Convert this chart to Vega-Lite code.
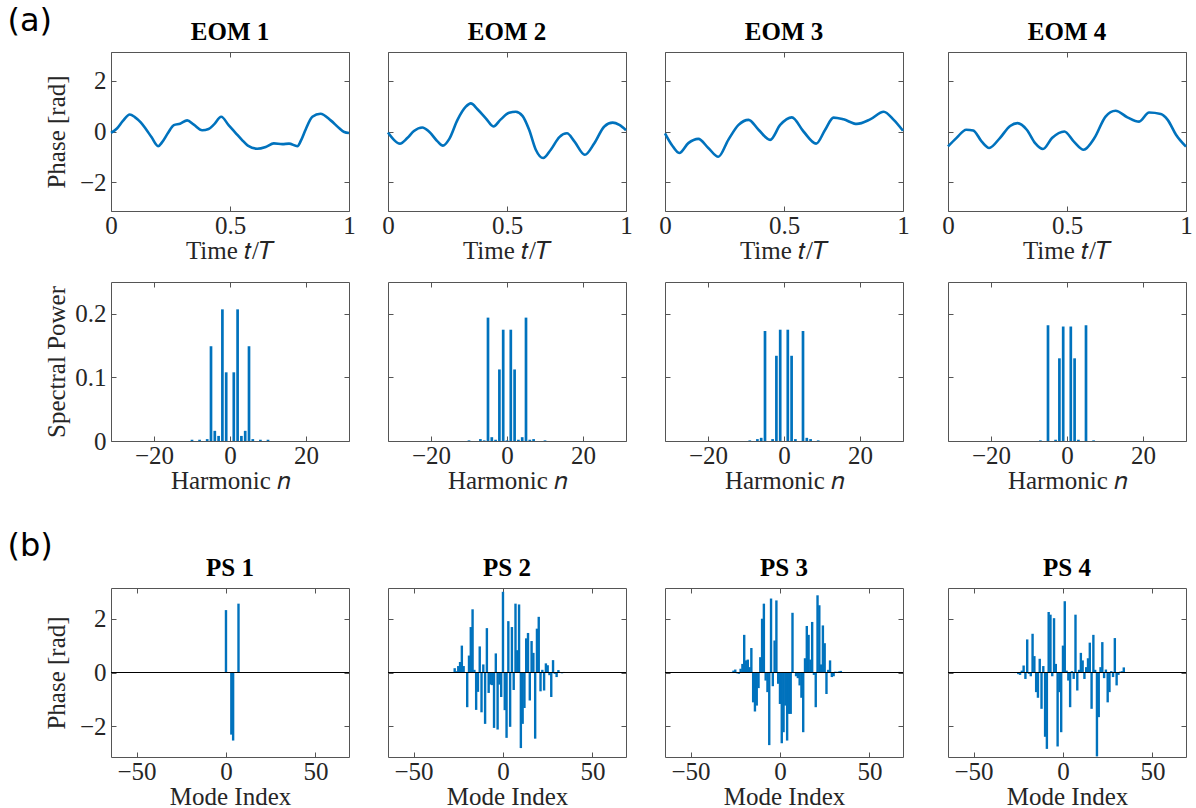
{
"$schema": "https://vega.github.io/schema/vega-lite/v6.json",
"padding": {"left": 7, "top": 5, "right": 2, "bottom": 0},
"background": "white",
"datasets": {
"eom": [
{"panel":1,"t":0,"v":-0.05},{"panel":1,"t":0.025,"v":0.12},{"panel":1,"t":0.05,"v":0.42},{"panel":1,"t":0.079,"v":0.67},{"panel":1,"t":0.1,"v":0.57},{"panel":1,"t":0.125,"v":0.36},{"panel":1,"t":0.145,"v":0.12},{"panel":1,"t":0.17,"v":-0.22},{"panel":1,"t":0.198,"v":-0.58},{"panel":1,"t":0.215,"v":-0.42},{"panel":1,"t":0.24,"v":-0.05},{"panel":1,"t":0.264,"v":0.25},{"panel":1,"t":0.29,"v":0.31},{"panel":1,"t":0.32,"v":0.44},{"panel":1,"t":0.348,"v":0.27},{"panel":1,"t":0.383,"v":0.05},{"panel":1,"t":0.41,"v":0.1},{"panel":1,"t":0.432,"v":0.27},{"panel":1,"t":0.463,"v":0.58},{"panel":1,"t":0.495,"v":0.24},{"panel":1,"t":0.523,"v":-0.05},{"panel":1,"t":0.55,"v":-0.33},{"panel":1,"t":0.575,"v":-0.56},{"panel":1,"t":0.614,"v":-0.68},{"panel":1,"t":0.65,"v":-0.61},{"panel":1,"t":0.684,"v":-0.47},{"panel":1,"t":0.72,"v":-0.5},{"panel":1,"t":0.748,"v":-0.48},{"panel":1,"t":0.783,"v":-0.58},{"panel":1,"t":0.8,"v":-0.32},{"panel":1,"t":0.818,"v":0.08},{"panel":1,"t":0.846,"v":0.58},{"panel":1,"t":0.88,"v":0.7},{"panel":1,"t":0.923,"v":0.44},{"panel":1,"t":0.958,"v":0.14},{"panel":1,"t":0.98,"v":-0.02},{"panel":1,"t":1,"v":-0.06},
{"panel":2,"t":0,"v":-0.04},{"panel":2,"t":0.025,"v":-0.33},{"panel":2,"t":0.05,"v":-0.48},{"panel":2,"t":0.081,"v":-0.26},{"panel":2,"t":0.109,"v":0.02},{"panel":2,"t":0.144,"v":0.16},{"panel":2,"t":0.172,"v":0.0},{"panel":2,"t":0.208,"v":-0.39},{"panel":2,"t":0.231,"v":-0.56},{"panel":2,"t":0.257,"v":-0.3},{"panel":2,"t":0.292,"v":0.46},{"panel":2,"t":0.327,"v":0.98},{"panel":2,"t":0.348,"v":1.11},{"panel":2,"t":0.376,"v":0.88},{"panel":2,"t":0.411,"v":0.52},{"panel":2,"t":0.443,"v":0.2},{"panel":2,"t":0.474,"v":0.48},{"panel":2,"t":0.509,"v":0.74},{"panel":2,"t":0.537,"v":0.78},{"panel":2,"t":0.565,"v":0.62},{"panel":2,"t":0.593,"v":0.07},{"panel":2,"t":0.621,"v":-0.72},{"panel":2,"t":0.652,"v":-1.05},{"panel":2,"t":0.684,"v":-0.72},{"panel":2,"t":0.72,"v":-0.22},{"panel":2,"t":0.752,"v":-0.07},{"panel":2,"t":0.783,"v":-0.39},{"panel":2,"t":0.827,"v":-0.92},{"panel":2,"t":0.867,"v":-0.46},{"panel":2,"t":0.909,"v":0.2},{"panel":2,"t":0.944,"v":0.35},{"panel":2,"t":0.972,"v":0.26},{"panel":2,"t":1,"v":0.05},
{"panel":3,"t":0,"v":-0.07},{"panel":3,"t":0.028,"v":-0.52},{"panel":3,"t":0.06,"v":-0.85},{"panel":3,"t":0.098,"v":-0.46},{"panel":3,"t":0.14,"v":-0.29},{"panel":3,"t":0.182,"v":-0.65},{"panel":3,"t":0.224,"v":-1.0},{"panel":3,"t":0.266,"v":-0.33},{"panel":3,"t":0.309,"v":0.26},{"panel":3,"t":0.351,"v":0.46},{"panel":3,"t":0.393,"v":0.07},{"panel":3,"t":0.442,"v":-0.33},{"panel":3,"t":0.484,"v":0.26},{"panel":3,"t":0.533,"v":0.56},{"panel":3,"t":0.582,"v":0.0},{"panel":3,"t":0.635,"v":-0.48},{"panel":3,"t":0.673,"v":0.07},{"panel":3,"t":0.708,"v":0.55},{"panel":3,"t":0.75,"v":0.48},{"panel":3,"t":0.806,"v":0.3},{"panel":3,"t":0.862,"v":0.48},{"panel":3,"t":0.919,"v":0.78},{"panel":3,"t":0.961,"v":0.46},{"panel":3,"t":1,"v":0.03},
{"panel":4,"t":0,"v":-0.59},{"panel":4,"t":0.035,"v":-0.26},{"panel":4,"t":0.077,"v":0.07},{"panel":4,"t":0.106,"v":0.04},{"panel":4,"t":0.141,"v":-0.39},{"panel":4,"t":0.173,"v":-0.65},{"panel":4,"t":0.218,"v":-0.26},{"panel":4,"t":0.261,"v":0.22},{"panel":4,"t":0.292,"v":0.33},{"panel":4,"t":0.331,"v":0.07},{"panel":4,"t":0.366,"v":-0.46},{"panel":4,"t":0.399,"v":-0.69},{"panel":4,"t":0.437,"v":-0.26},{"panel":4,"t":0.489,"v":0.0},{"panel":4,"t":0.528,"v":-0.39},{"panel":4,"t":0.57,"v":-0.72},{"panel":4,"t":0.615,"v":-0.26},{"panel":4,"t":0.662,"v":0.59},{"panel":4,"t":0.704,"v":0.82},{"panel":4,"t":0.754,"v":0.56},{"panel":4,"t":0.803,"v":0.39},{"panel":4,"t":0.845,"v":0.75},{"panel":4,"t":0.894,"v":0.69},{"panel":4,"t":0.923,"v":0.46},{"panel":4,"t":0.958,"v":-0.13},{"panel":4,"t":1,"v":-0.6}
],
"spec": [
{"panel":1,"n":-10,"p":0.002},{"panel":1,"n":-8,"p":0.002},{"panel":1,"n":-6,"p":0.003},{"panel":1,"n":-5,"p":0.149},{"panel":1,"n":-4,"p":0.016},{"panel":1,"n":-3,"p":0.008},{"panel":1,"n":-2,"p":0.207},{"panel":1,"n":-1,"p":0.108},{"panel":1,"n":0,"p":0},{"panel":1,"n":1,"p":0.108},{"panel":1,"n":2,"p":0.207},{"panel":1,"n":3,"p":0.008},{"panel":1,"n":4,"p":0.016},{"panel":1,"n":5,"p":0.149},{"panel":1,"n":6,"p":0.003},{"panel":1,"n":8,"p":0.002},{"panel":1,"n":10,"p":0.002},
{"panel":2,"n":-10,"p":0.001},{"panel":2,"n":-7,"p":0.003},{"panel":2,"n":-6,"p":0.001},{"panel":2,"n":-5,"p":0.194},{"panel":2,"n":-4,"p":0.006},{"panel":2,"n":-3,"p":0.002},{"panel":2,"n":-2,"p":0.1125},{"panel":2,"n":-1,"p":0.175},{"panel":2,"n":0,"p":0.001},{"panel":2,"n":1,"p":0.175},{"panel":2,"n":2,"p":0.1125},{"panel":2,"n":3,"p":0.002},{"panel":2,"n":4,"p":0.006},{"panel":2,"n":5,"p":0.194},{"panel":2,"n":6,"p":0.002},{"panel":2,"n":7,"p":0.003},{"panel":2,"n":10,"p":0.001},
{"panel":3,"n":-9,"p":0.001},{"panel":3,"n":-7,"p":0.003},{"panel":3,"n":-6,"p":0.005},{"panel":3,"n":-5,"p":0.173},{"panel":3,"n":-3,"p":0.003},{"panel":3,"n":-2,"p":0.134},{"panel":3,"n":-1,"p":0.175},{"panel":3,"n":0,"p":0},{"panel":3,"n":1,"p":0.175},{"panel":3,"n":2,"p":0.134},{"panel":3,"n":3,"p":0.003},{"panel":3,"n":5,"p":0.173},{"panel":3,"n":6,"p":0.005},{"panel":3,"n":7,"p":0.003},{"panel":3,"n":9,"p":0.001},
{"panel":4,"n":-7,"p":0.001},{"panel":4,"n":-5,"p":0.182},{"panel":4,"n":-3,"p":0.002},{"panel":4,"n":-2,"p":0.13},{"panel":4,"n":-1,"p":0.18},{"panel":4,"n":0,"p":0},{"panel":4,"n":1,"p":0.18},{"panel":4,"n":2,"p":0.13},{"panel":4,"n":3,"p":0.002},{"panel":4,"n":5,"p":0.182},{"panel":4,"n":7,"p":0.001}
],
"ps": [
{"panel":1,"m":0,"v":2.32},{"panel":1,"m":3,"v":-2.31},{"panel":1,"m":4,"v":-2.53},{"panel":1,"m":7,"v":2.56},
{"panel":2,"m":-28,"v":0.0},{"panel":2,"m":-27,"v":0.16},{"panel":2,"m":-26,"v":0.05},{"panel":2,"m":-25,"v":0.24},{"panel":2,"m":-24,"v":0.39},{"panel":2,"m":-23,"v":1.0},{"panel":2,"m":-22,"v":0.24},{"panel":2,"m":-21,"v":0.0},{"panel":2,"m":-20,"v":-1.29},{"panel":2,"m":-19,"v":0.63},{"panel":2,"m":-18,"v":1.69},{"panel":2,"m":-17,"v":2.35},{"panel":2,"m":-16,"v":0.1},{"panel":2,"m":-15,"v":-1.39},{"panel":2,"m":-14,"v":-0.72},{"panel":2,"m":-13,"v":0.97},{"panel":2,"m":-12,"v":-1.48},{"panel":2,"m":-11,"v":0.3},{"panel":2,"m":-10,"v":-1.91},{"panel":2,"m":-9,"v":1.65},{"panel":2,"m":-8,"v":-0.76},{"panel":2,"m":-7,"v":-0.45},{"panel":2,"m":-6,"v":-0.47},{"panel":2,"m":-5,"v":-2.06},{"panel":2,"m":-4,"v":0.71},{"panel":2,"m":-3,"v":-2.12},{"panel":2,"m":-2,"v":-0.45},{"panel":2,"m":-1,"v":-0.91},{"panel":2,"m":0,"v":3.0},{"panel":2,"m":1,"v":-1.4},{"panel":2,"m":2,"v":-2.43},{"panel":2,"m":3,"v":1.91},{"panel":2,"m":4,"v":-2.02},{"panel":2,"m":5,"v":1.69},{"panel":2,"m":6,"v":-0.65},{"panel":2,"m":7,"v":2.56},{"panel":2,"m":8,"v":0.83},{"panel":2,"m":9,"v":2.53},{"panel":2,"m":10,"v":-2.81},{"panel":2,"m":11,"v":-1.91},{"panel":2,"m":12,"v":-1.32},{"panel":2,"m":13,"v":1.27},{"panel":2,"m":14,"v":1.47},{"panel":2,"m":15,"v":-1.04},{"panel":2,"m":16,"v":1.17},{"panel":2,"m":17,"v":0.73},{"panel":2,"m":18,"v":-2.46},{"panel":2,"m":19,"v":1.63},{"panel":2,"m":20,"v":2.07},{"panel":2,"m":21,"v":-0.7},{"panel":2,"m":22,"v":0.1},{"panel":2,"m":23,"v":-0.67},{"panel":2,"m":24,"v":0.34},{"panel":2,"m":25,"v":0.27},{"panel":2,"m":26,"v":-0.1},{"panel":2,"m":27,"v":-0.91},{"panel":2,"m":28,"v":0.46},{"panel":2,"m":29,"v":-0.05},{"panel":2,"m":30,"v":-0.17},{"panel":2,"m":31,"v":0.09},{"panel":2,"m":32,"v":0.02},{"panel":2,"m":33,"v":-0.03},{"panel":2,"m":34,"v":0.02},{"panel":2,"m":35,"v":0.01},
{"panel":3,"m":-27,"v":0.02},{"panel":3,"m":-26,"v":0.07},{"panel":3,"m":-25,"v":0.11},{"panel":3,"m":-24,"v":-0.03},{"panel":3,"m":-23,"v":-0.05},{"panel":3,"m":-22,"v":0.14},{"panel":3,"m":-21,"v":0.32},{"panel":3,"m":-20,"v":1.4},{"panel":3,"m":-19,"v":0.45},{"panel":3,"m":-18,"v":0.48},{"panel":3,"m":-17,"v":0.2},{"panel":3,"m":-16,"v":0.91},{"panel":3,"m":-15,"v":-1.11},{"panel":3,"m":-14,"v":-1.45},{"panel":3,"m":-13,"v":-1.23},{"panel":3,"m":-12,"v":-0.58},{"panel":3,"m":-11,"v":0.57},{"panel":3,"m":-10,"v":2.0},{"panel":3,"m":-9,"v":2.56},{"panel":3,"m":-8,"v":-0.3},{"panel":3,"m":-7,"v":-0.73},{"panel":3,"m":-6,"v":-2.7},{"panel":3,"m":-5,"v":2.75},{"panel":3,"m":-4,"v":-0.51},{"panel":3,"m":-3,"v":1.19},{"panel":3,"m":-2,"v":2.68},{"panel":3,"m":-1,"v":-0.42},{"panel":3,"m":0,"v":-1.17},{"panel":3,"m":1,"v":-2.63},{"panel":3,"m":2,"v":-2.22},{"panel":3,"m":3,"v":-1.23},{"panel":3,"m":4,"v":-2.53},{"panel":3,"m":5,"v":-1.54},{"panel":3,"m":6,"v":-1.54},{"panel":3,"m":7,"v":2.22},{"panel":3,"m":8,"v":0.0},{"panel":3,"m":9,"v":-0.14},{"panel":3,"m":10,"v":-0.21},{"panel":3,"m":11,"v":-0.48},{"panel":3,"m":12,"v":-0.94},{"panel":3,"m":13,"v":-2.22},{"panel":3,"m":14,"v":0.53},{"panel":3,"m":15,"v":1.73},{"panel":3,"m":16,"v":1.4},{"panel":3,"m":17,"v":0.48},{"panel":3,"m":18,"v":1.88},{"panel":3,"m":19,"v":-0.09},{"panel":3,"m":20,"v":-1.29},{"panel":3,"m":21,"v":2.87},{"panel":3,"m":22,"v":2.5},{"panel":3,"m":23,"v":0.3},{"panel":3,"m":24,"v":1.75},{"panel":3,"m":25,"v":1.09},{"panel":3,"m":26,"v":-0.8},{"panel":3,"m":27,"v":0.1},{"panel":3,"m":28,"v":0.45},{"panel":3,"m":29,"v":-0.17},{"panel":3,"m":30,"v":-0.14},{"panel":3,"m":31,"v":0.03},{"panel":3,"m":32,"v":0.02},{"panel":3,"m":33,"v":0.04},{"panel":3,"m":34,"v":0.06},{"panel":3,"m":35,"v":0.02},
{"panel":4,"m":-27,"v":-0.02},{"panel":4,"m":-26,"v":0.01},{"panel":4,"m":-25,"v":-0.06},{"panel":4,"m":-24,"v":-0.09},{"panel":4,"m":-23,"v":0.07},{"panel":4,"m":-22,"v":0.26},{"panel":4,"m":-21,"v":-0.24},{"panel":4,"m":-20,"v":1.23},{"panel":4,"m":-19,"v":-0.05},{"panel":4,"m":-18,"v":-0.14},{"panel":4,"m":-17,"v":1.44},{"panel":4,"m":-16,"v":0.61},{"panel":4,"m":-15,"v":-0.73},{"panel":4,"m":-14,"v":-0.94},{"panel":4,"m":-13,"v":0.51},{"panel":4,"m":-12,"v":-1.35},{"panel":4,"m":-11,"v":0.24},{"panel":4,"m":-10,"v":-2.39},{"panel":4,"m":-9,"v":-2.84},{"panel":4,"m":-8,"v":2.25},{"panel":4,"m":-7,"v":2.15},{"panel":4,"m":-6,"v":-0.14},{"panel":4,"m":-5,"v":2.02},{"panel":4,"m":-4,"v":0.32},{"panel":4,"m":-3,"v":-2.75},{"panel":4,"m":-2,"v":-0.73},{"panel":4,"m":-1,"v":-2.22},{"panel":4,"m":0,"v":1.0},{"panel":4,"m":1,"v":2.65},{"panel":4,"m":2,"v":0.07},{"panel":4,"m":3,"v":-0.3},{"panel":4,"m":4,"v":-1.29},{"panel":4,"m":5,"v":0.05},{"panel":4,"m":6,"v":-0.24},{"panel":4,"m":7,"v":2.15},{"panel":4,"m":8,"v":-0.67},{"panel":4,"m":9,"v":0.1},{"panel":4,"m":10,"v":0.73},{"panel":4,"m":11,"v":0.45},{"panel":4,"m":12,"v":-0.24},{"panel":4,"m":13,"v":0.2},{"panel":4,"m":14,"v":0.53},{"panel":4,"m":15,"v":1.11},{"panel":4,"m":16,"v":-1.35},{"panel":4,"m":17,"v":1.4},{"panel":4,"m":18,"v":0.1},{"panel":4,"m":19,"v":-3.12},{"panel":4,"m":20,"v":-1.66},{"panel":4,"m":21,"v":0.2},{"panel":4,"m":22,"v":1.13},{"panel":4,"m":23,"v":-0.21},{"panel":4,"m":24,"v":0.11},{"panel":4,"m":25,"v":-1.11},{"panel":4,"m":26,"v":-0.73},{"panel":4,"m":27,"v":0.05},{"panel":4,"m":28,"v":-0.17},{"panel":4,"m":29,"v":1.28},{"panel":4,"m":30,"v":-0.48},{"panel":4,"m":31,"v":-0.09},{"panel":4,"m":32,"v":0.03},{"panel":4,"m":33,"v":0.05},{"panel":4,"m":34,"v":0.19}
]
},
"config": {
"font": "Liberation Serif",
"view": {"stroke": "#555555", "strokeWidth": 1},
"axis": {"grid": false, "domain": false, "ticks": true, "tickSize": -5, "tickColor": "#555555", "tickWidth": 1, "labelFont": "Liberation Serif", "labelFontSize": 25, "labelColor": "#262626", "labelFlush": false, "labelOverlap": false, "titleFont": "Liberation Serif", "titleFontSize": 25, "titleFontWeight": "normal", "titleColor": "#262626"},
"axisX": {"titlePadding": 0, "labelPadding": 7},
"axisY": {"titlePadding": 8, "labelPadding": 10},
"point": {"size": 1},
"title": {"font": "Liberation Serif", "fontSize": 25, "fontWeight": "bold", "color": "#000000", "offset": 7, "anchor": "middle"}
},
"spacing": 36,
"vconcat": [
{
"title": {"text": "(a)", "anchor": "start", "frame": "bounds", "font": "DejaVu Sans", "fontSize": 32, "fontWeight": "normal", "color": "#000000", "dx": -36, "dy": 19, "offset": 0},
"columns": 4,
"spacing": {"row": 17, "column": 13},
"concat": [
{"title": "EOM 1", "width": 238, "height": 159, "data": {"name": "eom"}, "transform": [{"filter": "datum.panel == 1"}],
"layer": [
{"mark": {"type": "line", "color": "#0072BD", "strokeWidth": 2.6, "interpolate": "monotone"},
"encoding": {"x": {"field": "t", "type": "quantitative", "scale": {"domain": [0, 1], "nice": false, "zero": false}, "axis": {"values": [0, 0.5, 1], "labelExpr": "datum.value < 0 ? '\u2212' + abs(datum.value) : '' + datum.value", "title": "Time 𝑡/𝑇"}},
"y": {"field": "v", "type": "quantitative", "scale": {"domain": [-3.1416, 3.1416], "nice": false, "zero": false}, "axis": {"values": [-2, 0, 2], "labelExpr": "datum.value < 0 ? '\u2212' + abs(datum.value) : '' + datum.value", "title": "Phase [rad]", "titleX": -42, "titleY": 79.5}}}},
{"mark": {"type": "point", "opacity": 0},
"encoding": {"x": {"field": "t", "type": "quantitative", "scale": {"domain": [0, 1], "nice": false, "zero": false}, "axis": {"orient": "top", "values": [0, 0.5, 1], "labels": false, "title": null}},
"y": {"field": "v", "type": "quantitative", "scale": {"domain": [-3.1416, 3.1416], "nice": false, "zero": false}, "axis": {"orient": "right", "values": [-2, 0, 2], "labels": false, "title": null, "minExtent": 12}}}}
],
"resolve": {"axis": {"x": "independent", "y": "independent"}}},
{"title": "EOM 2", "width": 238, "height": 159, "data": {"name": "eom"}, "transform": [{"filter": "datum.panel == 2"}],
"layer": [
{"mark": {"type": "line", "color": "#0072BD", "strokeWidth": 2.6, "interpolate": "monotone"},
"encoding": {"x": {"field": "t", "type": "quantitative", "scale": {"domain": [0, 1], "nice": false, "zero": false}, "axis": {"values": [0, 0.5, 1], "labelExpr": "datum.value < 0 ? '\u2212' + abs(datum.value) : '' + datum.value", "title": "Time 𝑡/𝑇"}},
"y": {"field": "v", "type": "quantitative", "scale": {"domain": [-3.1416, 3.1416], "nice": false, "zero": false}, "axis": {"values": [-2, 0, 2], "labels": false, "title": null, "minExtent": 12}}}},
{"mark": {"type": "point", "opacity": 0},
"encoding": {"x": {"field": "t", "type": "quantitative", "scale": {"domain": [0, 1], "nice": false, "zero": false}, "axis": {"orient": "top", "values": [0, 0.5, 1], "labels": false, "title": null}},
"y": {"field": "v", "type": "quantitative", "scale": {"domain": [-3.1416, 3.1416], "nice": false, "zero": false}, "axis": {"orient": "right", "values": [-2, 0, 2], "labels": false, "title": null, "minExtent": 12}}}}
],
"resolve": {"axis": {"x": "independent", "y": "independent"}}},
{"title": "EOM 3", "width": 238, "height": 159, "data": {"name": "eom"}, "transform": [{"filter": "datum.panel == 3"}],
"layer": [
{"mark": {"type": "line", "color": "#0072BD", "strokeWidth": 2.6, "interpolate": "monotone"},
"encoding": {"x": {"field": "t", "type": "quantitative", "scale": {"domain": [0, 1], "nice": false, "zero": false}, "axis": {"values": [0, 0.5, 1], "labelExpr": "datum.value < 0 ? '\u2212' + abs(datum.value) : '' + datum.value", "title": "Time 𝑡/𝑇"}},
"y": {"field": "v", "type": "quantitative", "scale": {"domain": [-3.1416, 3.1416], "nice": false, "zero": false}, "axis": {"values": [-2, 0, 2], "labels": false, "title": null, "minExtent": 12}}}},
{"mark": {"type": "point", "opacity": 0},
"encoding": {"x": {"field": "t", "type": "quantitative", "scale": {"domain": [0, 1], "nice": false, "zero": false}, "axis": {"orient": "top", "values": [0, 0.5, 1], "labels": false, "title": null}},
"y": {"field": "v", "type": "quantitative", "scale": {"domain": [-3.1416, 3.1416], "nice": false, "zero": false}, "axis": {"orient": "right", "values": [-2, 0, 2], "labels": false, "title": null, "minExtent": 12}}}}
],
"resolve": {"axis": {"x": "independent", "y": "independent"}}},
{"title": "EOM 4", "width": 238, "height": 159, "data": {"name": "eom"}, "transform": [{"filter": "datum.panel == 4"}],
"layer": [
{"mark": {"type": "line", "color": "#0072BD", "strokeWidth": 2.6, "interpolate": "monotone"},
"encoding": {"x": {"field": "t", "type": "quantitative", "scale": {"domain": [0, 1], "nice": false, "zero": false}, "axis": {"values": [0, 0.5, 1], "labelExpr": "datum.value < 0 ? '\u2212' + abs(datum.value) : '' + datum.value", "title": "Time 𝑡/𝑇"}},
"y": {"field": "v", "type": "quantitative", "scale": {"domain": [-3.1416, 3.1416], "nice": false, "zero": false}, "axis": {"values": [-2, 0, 2], "labels": false, "title": null, "minExtent": 18.5}}}},
{"mark": {"type": "point", "opacity": 0},
"encoding": {"x": {"field": "t", "type": "quantitative", "scale": {"domain": [0, 1], "nice": false, "zero": false}, "axis": {"orient": "top", "values": [0, 0.5, 1], "labels": false, "title": null}},
"y": {"field": "v", "type": "quantitative", "scale": {"domain": [-3.1416, 3.1416], "nice": false, "zero": false}, "axis": {"orient": "right", "values": [-2, 0, 2], "labels": false, "title": null}}}}
],
"resolve": {"axis": {"x": "independent", "y": "independent"}}},
{"width": 238, "height": 159, "data": {"name": "spec"}, "transform": [{"filter": "datum.panel == 1"}],
"layer": [
{"mark": {"type": "bar", "color": "#0072BD", "size": 2.7},
"encoding": {"x": {"field": "n", "type": "quantitative", "scale": {"domain": [-30, 30], "nice": false, "zero": false}, "axis": {"values": [-20, 0, 20], "labelExpr": "datum.value < 0 ? '\u2212' + abs(datum.value) : '' + datum.value", "title": "Harmonic 𝑛"}},
"y": {"field": "p", "type": "quantitative", "scale": {"domain": [0, 0.25], "nice": false}, "axis": {"values": [0, 0.1, 0.2], "labelExpr": "'' + datum.value", "title": "Spectral Power", "titleX": -42, "titleY": 79.5}}}},
{"mark": {"type": "point", "opacity": 0},
"encoding": {"x": {"field": "n", "type": "quantitative", "scale": {"domain": [-30, 30], "nice": false, "zero": false}, "axis": {"orient": "top", "values": [-20, 0, 20], "labels": false, "title": null}},
"y": {"field": "p", "type": "quantitative", "scale": {"domain": [0, 0.25], "nice": false}, "axis": {"orient": "right", "values": [0, 0.1, 0.2], "labels": false, "title": null, "minExtent": 12}}}}
],
"resolve": {"axis": {"x": "independent", "y": "independent"}}},
{"width": 238, "height": 159, "data": {"name": "spec"}, "transform": [{"filter": "datum.panel == 2"}],
"layer": [
{"mark": {"type": "bar", "color": "#0072BD", "size": 2.7},
"encoding": {"x": {"field": "n", "type": "quantitative", "scale": {"domain": [-30, 30], "nice": false, "zero": false}, "axis": {"values": [-20, 0, 20], "labelExpr": "datum.value < 0 ? '\u2212' + abs(datum.value) : '' + datum.value", "title": "Harmonic 𝑛"}},
"y": {"field": "p", "type": "quantitative", "scale": {"domain": [0, 0.25], "nice": false}, "axis": {"values": [0, 0.1, 0.2], "labels": false, "title": null, "minExtent": 12}}}},
{"mark": {"type": "point", "opacity": 0},
"encoding": {"x": {"field": "n", "type": "quantitative", "scale": {"domain": [-30, 30], "nice": false, "zero": false}, "axis": {"orient": "top", "values": [-20, 0, 20], "labels": false, "title": null}},
"y": {"field": "p", "type": "quantitative", "scale": {"domain": [0, 0.25], "nice": false}, "axis": {"orient": "right", "values": [0, 0.1, 0.2], "labels": false, "title": null, "minExtent": 12}}}}
],
"resolve": {"axis": {"x": "independent", "y": "independent"}}},
{"width": 238, "height": 159, "data": {"name": "spec"}, "transform": [{"filter": "datum.panel == 3"}],
"layer": [
{"mark": {"type": "bar", "color": "#0072BD", "size": 2.7},
"encoding": {"x": {"field": "n", "type": "quantitative", "scale": {"domain": [-30, 30], "nice": false, "zero": false}, "axis": {"values": [-20, 0, 20], "labelExpr": "datum.value < 0 ? '\u2212' + abs(datum.value) : '' + datum.value", "title": "Harmonic 𝑛"}},
"y": {"field": "p", "type": "quantitative", "scale": {"domain": [0, 0.25], "nice": false}, "axis": {"values": [0, 0.1, 0.2], "labels": false, "title": null, "minExtent": 12}}}},
{"mark": {"type": "point", "opacity": 0},
"encoding": {"x": {"field": "n", "type": "quantitative", "scale": {"domain": [-30, 30], "nice": false, "zero": false}, "axis": {"orient": "top", "values": [-20, 0, 20], "labels": false, "title": null}},
"y": {"field": "p", "type": "quantitative", "scale": {"domain": [0, 0.25], "nice": false}, "axis": {"orient": "right", "values": [0, 0.1, 0.2], "labels": false, "title": null, "minExtent": 12}}}}
],
"resolve": {"axis": {"x": "independent", "y": "independent"}}},
{"width": 238, "height": 159, "data": {"name": "spec"}, "transform": [{"filter": "datum.panel == 4"}],
"layer": [
{"mark": {"type": "bar", "color": "#0072BD", "size": 2.7},
"encoding": {"x": {"field": "n", "type": "quantitative", "scale": {"domain": [-30, 30], "nice": false, "zero": false}, "axis": {"values": [-20, 0, 20], "labelExpr": "datum.value < 0 ? '\u2212' + abs(datum.value) : '' + datum.value", "title": "Harmonic 𝑛"}},
"y": {"field": "p", "type": "quantitative", "scale": {"domain": [0, 0.25], "nice": false}, "axis": {"values": [0, 0.1, 0.2], "labels": false, "title": null, "minExtent": 18.5}}}},
{"mark": {"type": "point", "opacity": 0},
"encoding": {"x": {"field": "n", "type": "quantitative", "scale": {"domain": [-30, 30], "nice": false, "zero": false}, "axis": {"orient": "top", "values": [-20, 0, 20], "labels": false, "title": null}},
"y": {"field": "p", "type": "quantitative", "scale": {"domain": [0, 0.25], "nice": false}, "axis": {"orient": "right", "values": [0, 0.1, 0.2], "labels": false, "title": null}}}}
],
"resolve": {"axis": {"x": "independent", "y": "independent"}}}
]
},
{
"title": {"text": "(b)", "anchor": "start", "frame": "bounds", "font": "DejaVu Sans", "fontSize": 32, "fontWeight": "normal", "color": "#000000", "dx": -36, "dy": 8, "offset": 0},
"spacing": 13,
"hconcat": [
{"title": "PS 1", "width": 238, "height": 169, "data": {"name": "ps"}, "transform": [{"filter": "datum.panel == 1"}],
"layer": [
{"mark": {"type": "bar", "color": "#0072BD", "size": 2.4},
"encoding": {"x": {"field": "m", "type": "quantitative", "scale": {"domain": [-61.5, 66], "nice": false, "zero": false}, "axis": {"values": [-50, 0, 50], "labelExpr": "datum.value < 0 ? '\u2212' + abs(datum.value) : '' + datum.value", "title": "Mode Index"}},
"y": {"field": "v", "type": "quantitative", "scale": {"domain": [-3.1416, 3.1416], "nice": false, "zero": false}, "axis": {"values": [-2, 0, 2], "labelExpr": "datum.value < 0 ? '\u2212' + abs(datum.value) : '' + datum.value", "title": "Phase [rad]", "titleX": -42, "titleY": 84.5}}}},
{"mark": {"type": "point", "opacity": 0},
"encoding": {"x": {"field": "m", "type": "quantitative", "scale": {"domain": [-61.5, 66], "nice": false, "zero": false}, "axis": {"orient": "top", "values": [-50, 0, 50], "labels": false, "title": null}},
"y": {"field": "v", "type": "quantitative", "scale": {"domain": [-3.1416, 3.1416], "nice": false, "zero": false}, "axis": {"orient": "right", "values": [-2, 0, 2], "labels": false, "title": null, "minExtent": 12}}}},
{"mark": {"type": "rule", "color": "#000000", "strokeWidth": 1.2},
"encoding": {"y": {"datum": 0, "type": "quantitative", "axis": null}}}
],
"resolve": {"axis": {"x": "independent", "y": "independent"}}},
{"title": "PS 2", "width": 238, "height": 169, "data": {"name": "ps"}, "transform": [{"filter": "datum.panel == 2"}],
"layer": [
{"mark": {"type": "bar", "color": "#0072BD", "size": 2.4},
"encoding": {"x": {"field": "m", "type": "quantitative", "scale": {"domain": [-61.5, 66], "nice": false, "zero": false}, "axis": {"values": [-50, 0, 50], "labelExpr": "datum.value < 0 ? '\u2212' + abs(datum.value) : '' + datum.value", "title": "Mode Index"}},
"y": {"field": "v", "type": "quantitative", "scale": {"domain": [-3.1416, 3.1416], "nice": false, "zero": false}, "axis": {"values": [-2, 0, 2], "labels": false, "title": null, "minExtent": 12}}}},
{"mark": {"type": "point", "opacity": 0},
"encoding": {"x": {"field": "m", "type": "quantitative", "scale": {"domain": [-61.5, 66], "nice": false, "zero": false}, "axis": {"orient": "top", "values": [-50, 0, 50], "labels": false, "title": null}},
"y": {"field": "v", "type": "quantitative", "scale": {"domain": [-3.1416, 3.1416], "nice": false, "zero": false}, "axis": {"orient": "right", "values": [-2, 0, 2], "labels": false, "title": null, "minExtent": 12}}}},
{"mark": {"type": "rule", "color": "#000000", "strokeWidth": 1.2},
"encoding": {"y": {"datum": 0, "type": "quantitative", "axis": null}}}
],
"resolve": {"axis": {"x": "independent", "y": "independent"}}},
{"title": "PS 3", "width": 238, "height": 169, "data": {"name": "ps"}, "transform": [{"filter": "datum.panel == 3"}],
"layer": [
{"mark": {"type": "bar", "color": "#0072BD", "size": 2.4},
"encoding": {"x": {"field": "m", "type": "quantitative", "scale": {"domain": [-61.5, 66], "nice": false, "zero": false}, "axis": {"values": [-50, 0, 50], "labelExpr": "datum.value < 0 ? '\u2212' + abs(datum.value) : '' + datum.value", "title": "Mode Index"}},
"y": {"field": "v", "type": "quantitative", "scale": {"domain": [-3.1416, 3.1416], "nice": false, "zero": false}, "axis": {"values": [-2, 0, 2], "labels": false, "title": null, "minExtent": 12}}}},
{"mark": {"type": "point", "opacity": 0},
"encoding": {"x": {"field": "m", "type": "quantitative", "scale": {"domain": [-61.5, 66], "nice": false, "zero": false}, "axis": {"orient": "top", "values": [-50, 0, 50], "labels": false, "title": null}},
"y": {"field": "v", "type": "quantitative", "scale": {"domain": [-3.1416, 3.1416], "nice": false, "zero": false}, "axis": {"orient": "right", "values": [-2, 0, 2], "labels": false, "title": null, "minExtent": 12}}}},
{"mark": {"type": "rule", "color": "#000000", "strokeWidth": 1.2},
"encoding": {"y": {"datum": 0, "type": "quantitative", "axis": null}}}
],
"resolve": {"axis": {"x": "independent", "y": "independent"}}},
{"title": "PS 4", "width": 238, "height": 169, "data": {"name": "ps"}, "transform": [{"filter": "datum.panel == 4"}],
"layer": [
{"mark": {"type": "bar", "color": "#0072BD", "size": 2.4},
"encoding": {"x": {"field": "m", "type": "quantitative", "scale": {"domain": [-61.5, 66], "nice": false, "zero": false}, "axis": {"values": [-50, 0, 50], "labelExpr": "datum.value < 0 ? '\u2212' + abs(datum.value) : '' + datum.value", "title": "Mode Index"}},
"y": {"field": "v", "type": "quantitative", "scale": {"domain": [-3.1416, 3.1416], "nice": false, "zero": false}, "axis": {"values": [-2, 0, 2], "labels": false, "title": null, "minExtent": 18.5}}}},
{"mark": {"type": "point", "opacity": 0},
"encoding": {"x": {"field": "m", "type": "quantitative", "scale": {"domain": [-61.5, 66], "nice": false, "zero": false}, "axis": {"orient": "top", "values": [-50, 0, 50], "labels": false, "title": null}},
"y": {"field": "v", "type": "quantitative", "scale": {"domain": [-3.1416, 3.1416], "nice": false, "zero": false}, "axis": {"orient": "right", "values": [-2, 0, 2], "labels": false, "title": null}}}},
{"mark": {"type": "rule", "color": "#000000", "strokeWidth": 1.2},
"encoding": {"y": {"datum": 0, "type": "quantitative", "axis": null}}}
],
"resolve": {"axis": {"x": "independent", "y": "independent"}}}
]
}
]
}
